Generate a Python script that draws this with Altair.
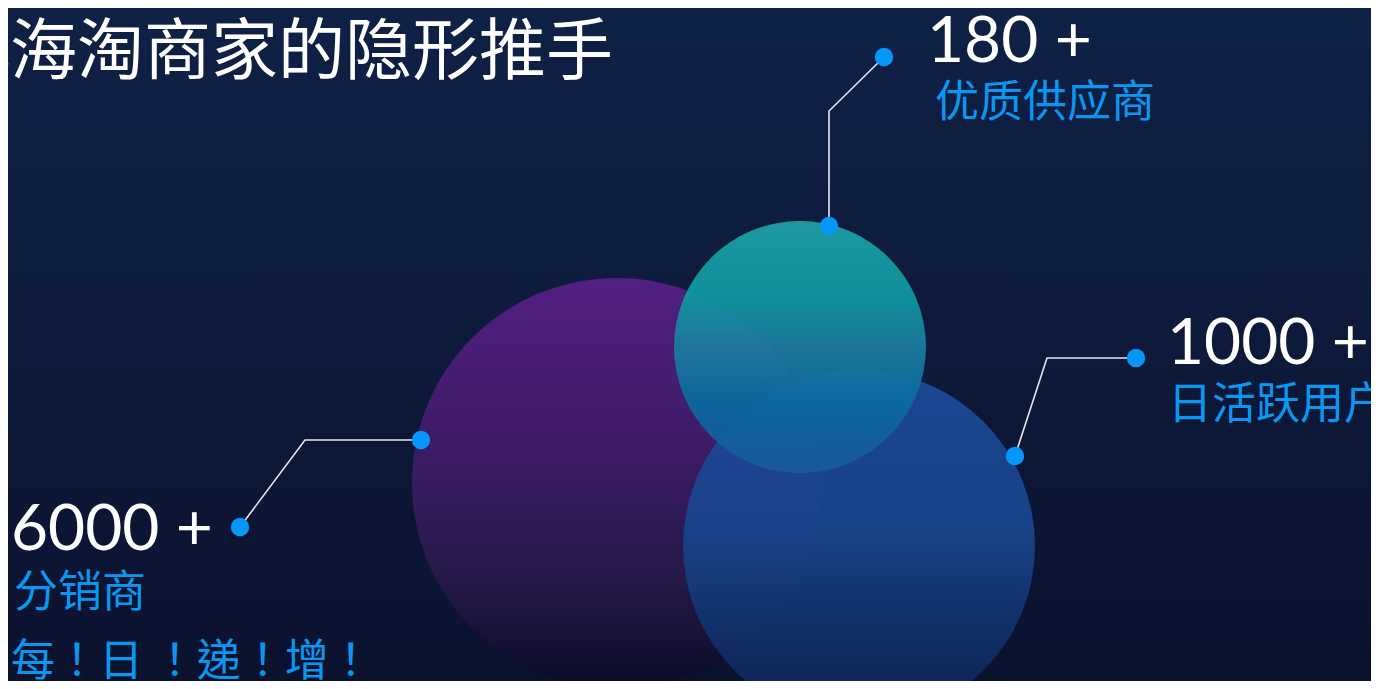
import altair as alt
import pandas as pd

# ---------------- data ----------------
values = [6000, 180, 1000]
value_labels = ["6000 +", "180 +", "1000 +"]
categories = ["分销商", "优质供应商", "日活跃用户"]
title_text = "小海淘商家的隐形推手"
slogan_text = "每！日 ！递！增！"

# ---------------- layout (screen pixel coordinates) ----------------
W, H = 1363, 673
X0, X1 = 8, 8 + W
Y0, Y1 = 8, 8 + H

circle_names = ["purple", "blue", "teal"]
circle_cx = [617, 859, 800]
circle_cy = [483, 546, 347]
circle_r = [205, 176, 126]

# connector polylines: outer dot -> elbow -> dot on circle
conn_x = [[240, 305, 421], [884, 829, 829], [1136, 1047, 1015]]
conn_y = [[527, 440, 440], [57, 111, 226], [358, 358, 456]]

num_x = [11, 927, 1167]
num_y = [550, 62, 364]
cat_x = [14, 935, 1168]
cat_y = [607, 117, 419]

xs = alt.Scale(domain=[X0, X1], nice=False, zero=False)
ys = alt.Scale(domain=[Y1, Y0], nice=False, zero=False)

BLUE = "#0a97f2"

# background
bg = alt.Chart(pd.DataFrame({"a": [0]})).mark_rect(
    color=alt.Gradient(
        gradient="linear", x1=0, x2=0, y1=0, y2=1,
        stops=[alt.GradientStop(offset=0, color="#0f2146"),
               alt.GradientStop(offset=1, color="#0b122e")],
    )
).encode(x=alt.value(-10), x2=alt.value(W + 10), y=alt.value(-10), y2=alt.value(H + 10))

gradients = {
    "purple": ([(0, "#521f82"), (0.45, "#3b1b64"), (0.75, "#241846"), (1, "#0a0b26")], 1.0),
    "blue": ([(0, "#1b4b98"), (0.45, "#19458d"), (0.7, "#12346f"), (1, "#0d2150")], 0.93),
    "teal": ([(0, "#1fa3a8"), (0.3, "#0f9aa2"), (0.5, "#1c7da1"), (0.72, "#0a6aa0"), (1, "#1a5a98")], 0.92),
}

circle_df = pd.DataFrame({"name": circle_names, "cx": circle_cx, "cy": circle_cy,
                          "size": [(2 * r) ** 2 for r in circle_r]})
circle_layers = []
for name in circle_names:
    stops, op = gradients[name]
    circle_layers.append(
        alt.Chart(circle_df).transform_filter(alt.datum.name == name).mark_point(
            shape="circle", filled=True, strokeWidth=0, opacity=op,
            color=alt.Gradient(gradient="linear", x1=0, x2=0, y1=0, y2=1,
                               stops=[alt.GradientStop(offset=o, color=c) for o, c in stops]),
        ).encode(
            x=alt.X("cx:Q", scale=xs, axis=None),
            y=alt.Y("cy:Q", scale=ys, axis=None),
            size=alt.Size("size:Q", scale=None, legend=None),
        )
    )

rows = []
for i, (px, py) in enumerate(zip(conn_x, conn_y)):
    for j, (a, b) in enumerate(zip(px, py)):
        rows.append({"id": categories[i], "order": j, "x": a, "y": b})
conn_df = pd.DataFrame(rows)

lines = alt.Chart(conn_df).mark_line(color="#e6e6ee", strokeWidth=1.6).encode(
    x=alt.X("x:Q", scale=xs, axis=None),
    y=alt.Y("y:Q", scale=ys, axis=None),
    detail="id:N",
    order="order:Q",
)

dots = alt.Chart(conn_df).transform_filter(alt.datum.order != 1).mark_circle(
    color="#0596fa", opacity=1, size=340
).encode(
    x=alt.X("x:Q", scale=xs, axis=None),
    y=alt.Y("y:Q", scale=ys, axis=None),
)

num_df = pd.DataFrame({"label": value_labels, "value": values, "x": num_x, "y": num_y})
nums = alt.Chart(num_df).mark_text(
    font="Lato", fontSize=64, color="#ffffff", align="left", baseline="alphabetic"
).encode(
    x=alt.X("x:Q", scale=xs, axis=None),
    y=alt.Y("y:Q", scale=ys, axis=None),
    text="label:N",
)

cat_df = pd.DataFrame({"label": categories, "x": cat_x, "y": cat_y})
cats = alt.Chart(cat_df).mark_text(
    font="Noto Sans CJK SC", fontSize=44, color=BLUE, align="left", baseline="alphabetic"
).encode(
    x=alt.X("x:Q", scale=xs, axis=None),
    y=alt.Y("y:Q", scale=ys, axis=None),
    text="label:N",
)

misc_df = pd.DataFrame({"label": [title_text, slogan_text], "x": [613, 11], "y": [74, 676],
                        "kind": ["title", "slogan"]})
title = alt.Chart(misc_df).transform_filter(alt.datum.kind == "title").mark_text(
    font="Noto Sans CJK SC", fontSize=67, color="#ffffff", align="right", baseline="alphabetic"
).encode(
    x=alt.X("x:Q", scale=xs, axis=None),
    y=alt.Y("y:Q", scale=ys, axis=None),
    text="label:N",
)
slogan = alt.Chart(misc_df).transform_filter(alt.datum.kind == "slogan").mark_text(
    font="Noto Sans CJK TC", fontSize=44, color=BLUE, align="left", baseline="alphabetic"
).encode(
    x=alt.X("x:Q", scale=xs, axis=None),
    y=alt.Y("y:Q", scale=ys, axis=None),
    text="label:N",
)

chart = alt.layer(bg, *circle_layers, lines, dots, nums, cats, title, slogan).properties(
    width=W, height=H, autosize=alt.AutoSizeParams(type="none"), padding=0,
    background="#0d1a3c",
).configure_view(stroke=None)

chart.save("out.html", embed_options={"renderer": "svg", "actions": False})
